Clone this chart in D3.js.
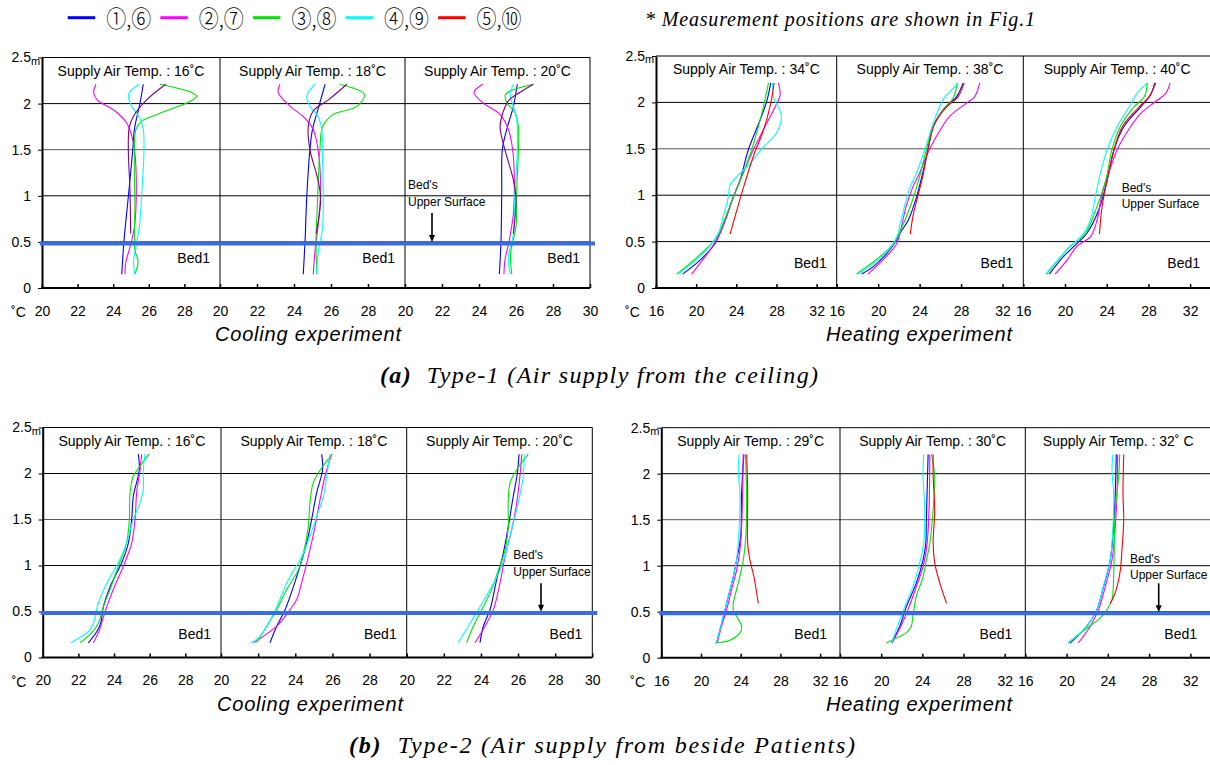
<!DOCTYPE html>
<html>
<head>
<meta charset="utf-8">
<script src="https://d3js.org/d3.v7.min.js"></script>
<style>
  body { margin: 0; background: #fff; }
  text { font-family: "Liberation Sans", Arial, sans-serif; }
  .serif { font-family: "Liberation Serif", "Times New Roman", serif; }
</style>
</head>
<body>
<div id="chart"></div>
<script>
// measurement points (legend) and colours
var seriesLabels = ["①,⑥", "②,⑦", "③,⑧", "④,⑨", "⑤,⑩"];
var seriesColors = ["#0000ff", "#ff00ff", "#00e600", "#00ffff", "#ff0000"];
var type1CoolFifth = "#800080";   // 5th curve of the type-1 cooling runs is drawn purple

var coolTemps1 = ["16˚C", "18˚C", "20˚C"];
var heatTemps1 = ["34˚C", "38˚C", "40˚C"];
var coolTemps2 = ["16˚C", "18˚C", "20˚C"];
var heatTemps2 = ["29˚C", "30˚C", "32˚ C"];

var coolTicks = [[20, 22, 24, 26, 28], [20, 22, 24, 26, 28], [20, 22, 24, 26, 28, 30]];
var heatTicks = [[16, 20, 24, 28, 32], [16, 20, 24, 28, 32], [16, 20, 24, 28, 32]];
var heightTicks = [0, 0.5, 1, 1.5, 2, 2.5];
var bedHeight = 0.483;

// each curve: [height (m), temperature (°C)]
// Type-1, cooling
var t1Cool16 = [
  [[2.21,25.69],[2.0,25.5],[1.72,25.19],[1.5,25.1],[0.99,24.85],[0.52,24.61],[0.15,24.48]],
  [[2.21,23.03],[2.12,22.9],[2.04,23.1],[1.92,24.1],[1.79,24.76],[1.65,25.04],[1.5,25.2],[1.07,25.3],[0.67,25.2],[0.45,24.95],[0.27,24.7],[0.15,24.66]],
  [[2.21,26.63],[2.12,28.4],[2.08,28.69],[2.03,28.4],[1.95,27.38],[1.88,26.44],[1.81,25.6],[1.72,25.28],[1.5,25.19],[0.88,25.22],[0.41,25.22],[0.29,25.4],[0.15,25.22]],
  [[2.21,25.47],[2.13,24.94],[2.08,24.85],[1.97,25.04],[1.84,25.5],[1.72,25.69],[1.5,25.73],[1.17,25.65],[0.67,25.47],[0.45,25.28],[0.3,25.15],[0.15,25.2]],
  [[2.21,26.95],[2.04,25.88],[1.86,25.13],[1.74,24.9],[1.5,24.85],[1.07,24.94],[0.59,24.98]]
];
var t1Cool18 = [
  [[2.21,25.68],[2.01,25.4],[1.72,25.0],[1.5,24.86],[0.99,24.69],[0.52,24.6],[0.15,24.5]],
  [[2.21,23.24],[2.12,23.15],[1.97,23.8],[1.84,24.6],[1.72,25.04],[1.5,25.3],[1.07,25.44],[0.67,25.3],[0.41,25.14],[0.15,25.04]],
  [[2.21,26.45],[2.1,27.8],[1.97,27.4],[1.88,26.1],[1.75,25.55],[1.5,25.4],[0.88,25.26],[0.52,25.19],[0.15,25.23]],
  [[2.21,25.14],[2.08,24.69],[1.97,24.86],[1.86,25.3],[1.72,25.5],[1.5,25.53],[0.67,25.55],[0.38,25.3],[0.15,25.23]],
  [[2.21,26.85],[2.04,25.86],[1.92,25.04],[1.75,24.77],[1.5,24.86],[1.17,25.3],[0.96,25.44],[0.59,25.2]]
];
var t1Cool20 = [
  [[2.21,26.07],[1.97,25.86],[1.72,25.5],[1.5,25.26],[1.07,25.23],[0.52,25.19],[0.15,25.1]],
  [[2.21,24.2],[2.12,23.73],[2.01,24.2],[1.88,25.14],[1.72,25.59],[1.5,25.82],[1.17,25.91],[0.81,25.86],[0.52,25.64],[0.3,25.4],[0.15,25.35]],
  [[2.21,26.94],[2.1,25.44],[2.01,25.5],[1.9,25.95],[1.75,26.13],[1.5,26.13],[1.07,26.04],[0.67,26.0],[0.38,25.71],[0.15,25.77]],
  [[2.21,25.86],[2.1,25.68],[1.97,25.86],[1.83,26.04],[1.5,26.07],[1.07,25.95],[0.59,25.86],[0.34,25.59],[0.15,25.68]],
  [[2.21,26.94],[2.12,26.2],[2.03,25.59],[1.86,25.23],[1.74,25.14],[1.5,25.4],[1.17,25.86],[0.96,26.0],[0.59,25.86]]
];

// Type-1, heating
var t1Heat34 = [
  [[2.21,27.43],[2.01,27.03],[1.81,26.37],[1.49,25.2],[1.16,24.37],[0.98,23.7],[0.73,22.88],[0.48,21.88],[0.3,20.39],[0.15,18.66]],
  [[2.21,28.19],[2.08,28.36],[1.95,27.86],[1.81,27.2],[1.49,25.7],[1.24,24.7],[0.98,23.7],[0.77,23.04],[0.59,22.38],[0.41,21.38],[0.15,19.55]],
  [[2.21,27.2],[2.03,26.86],[1.81,26.37],[1.49,25.53],[1.2,24.54],[0.98,23.71],[0.75,22.88],[0.55,22.05],[0.36,20.39],[0.15,18.06]],
  [[2.21,27.63],[2.06,27.7],[1.85,28.5],[1.67,28.0],[1.52,26.7],[1.34,25.37],[1.2,24.04],[1.11,23.38],[0.98,23.2],[0.77,22.7],[0.59,22.2],[0.41,21.05],[0.15,18.23]],
  [[2.21,27.76],[1.99,27.43],[1.7,26.7],[1.42,25.7],[1.02,24.54],[0.58,23.38]]
];
var t1Heat38 = [
  [[2.21,28.2],[2.06,27.55],[1.92,26.26],[1.74,25.3],[1.49,24.8],[1.24,24.3],[0.98,23.7],[0.73,22.9],[0.59,22.1],[0.52,21.79],[0.37,20.82],[0.23,19.53],[0.15,18.41]],
  [[2.21,29.8],[2.06,29.3],[1.99,28.5],[1.85,26.9],[1.63,25.6],[1.42,24.65],[1.24,24.0],[1.09,23.35],[0.88,22.7],[0.59,22.1],[0.48,21.8],[0.34,20.8],[0.15,19.0]],
  [[2.21,27.65],[2.04,27.2],[1.92,26.26],[1.74,25.3],[1.49,24.65],[1.2,24.0],[0.91,23.2],[0.63,22.2],[0.48,21.5],[0.34,20.2],[0.15,17.9]],
  [[2.21,27.7],[2.13,27.06],[2.03,26.26],[1.77,25.3],[1.49,24.5],[1.24,23.7],[1.06,23.0],[0.73,22.2],[0.55,21.79],[0.37,20.66],[0.15,18.08]],
  [[2.21,28.3],[2.06,27.7],[1.95,26.58],[1.77,25.45],[1.49,24.8],[1.2,24.3],[0.98,23.8],[0.77,23.35],[0.58,23.1]]
];
var t1Heat40 = [
  [[2.21,28.6],[2.08,28.2],[1.95,27.25],[1.74,25.65],[1.49,24.7],[1.16,24.04],[0.84,23.23],[0.59,22.1],[0.48,21.15],[0.34,19.86],[0.15,18.5]],
  [[2.21,30.08],[2.1,29.67],[2.01,28.7],[1.88,27.25],[1.74,26.3],[1.49,25.0],[1.24,24.2],[1.02,23.56],[0.73,23.07],[0.55,22.43],[0.45,21.15],[0.3,20.2],[0.15,19.05]],
  [[2.21,27.9],[2.06,27.6],[1.95,26.6],[1.74,25.3],[1.49,24.5],[1.16,23.9],[0.88,23.07],[0.59,21.95],[0.45,20.5],[0.15,18.25]],
  [[2.21,27.9],[2.1,26.93],[1.95,26.13],[1.74,25.0],[1.49,24.04],[1.24,23.4],[0.98,22.9],[0.73,22.43],[0.59,21.8],[0.41,20.18],[0.15,18.15]],
  [[2.21,28.7],[2.06,28.06],[1.95,27.1],[1.74,25.5],[1.49,24.7],[1.16,24.04],[0.88,23.56],[0.58,23.3]]
];

// Type-2, cooling (no 5th curve)
var t2Cool16 = [
  [[2.21,25.36],[2.04,25.42],[1.75,25.08],[1.5,24.99],[1.24,24.8],[1.03,24.43],[0.77,23.78],[0.55,23.4],[0.37,23.25],[0.28,23.03],[0.16,22.56]],
  [[2.21,25.55],[2.04,25.46],[1.79,25.27],[1.5,25.18],[1.24,24.99],[1.13,24.8],[0.99,24.52],[0.74,23.96],[0.55,23.59],[0.37,23.3],[0.27,23.12],[0.16,22.84]],
  [[2.21,25.96],[2.08,25.46],[1.97,25.08],[1.79,24.9],[1.5,24.86],[1.24,24.7],[0.99,24.24],[0.74,23.78],[0.55,23.4],[0.37,23.12],[0.27,22.75],[0.16,22.1]],
  [[2.21,25.74],[2.04,25.64],[1.82,25.64],[1.68,25.46],[1.5,25.08],[1.24,24.7],[1.03,24.24],[0.81,23.6],[0.59,23.12],[0.37,22.84],[0.28,22.56],[0.23,22.19],[0.16,21.57]]
];
var t2Cool18 = [
  [[2.21,25.42],[2.04,25.47],[1.79,25.15],[1.5,24.88],[1.24,24.61],[0.99,24.25],[0.77,23.9],[0.52,23.45],[0.34,23.0],[0.16,22.64]],
  [[2.21,25.96],[1.97,25.6],[1.71,25.33],[1.42,25.06],[1.17,24.79],[0.81,24.34],[0.63,24.08],[0.52,23.72],[0.34,23.0],[0.23,22.28],[0.16,21.74]],
  [[2.21,26.0],[2.06,25.42],[1.9,24.97],[1.68,24.79],[1.42,24.7],[1.13,24.43],[0.95,24.16],[0.74,23.54],[0.52,23.0],[0.34,22.46],[0.16,21.92]],
  [[2.21,25.87],[1.97,25.69],[1.75,25.51],[1.53,25.15],[1.32,24.79],[1.13,24.43],[1.03,24.16],[0.81,23.54],[0.55,23.0],[0.34,22.46],[0.21,22.0],[0.16,21.6]]
];
var t2Cool20 = [
  [[2.21,26.05],[2.0,25.96],[1.75,25.74],[1.42,25.47],[1.13,25.2],[0.85,24.85],[0.52,24.49],[0.34,24.13],[0.16,23.95]],
  [[2.21,26.2],[1.97,26.1],[1.68,25.93],[1.39,25.66],[1.1,25.3],[0.81,25.03],[0.52,24.67],[0.34,24.22],[0.16,23.68]],
  [[2.21,26.55],[2.04,25.93],[1.9,25.57],[1.68,25.47],[1.42,25.47],[1.17,25.3],[0.95,24.94],[0.7,24.49],[0.48,23.95],[0.34,23.59],[0.16,23.23]],
  [[2.21,26.32],[1.97,26.28],[1.68,26.01],[1.46,25.74],[1.17,25.39],[0.95,25.03],[0.74,24.49],[0.52,23.86],[0.37,23.41],[0.16,22.78]]
];

// Type-2, heating
var t2Heat29 = [
  [[2.21,24.32],[1.79,24.09],[1.32,24.0],[1.06,23.58],[0.88,23.25],[0.59,22.58],[0.37,22.07],[0.16,21.57]],
  [[2.21,24.25],[1.79,24.19],[1.42,24.09],[1.17,23.92],[0.95,23.58],[0.74,23.08],[0.52,22.58],[0.34,22.07],[0.16,21.64]],
  [[2.21,24.49],[1.68,24.59],[1.32,24.52],[1.06,24.26],[0.81,23.75],[0.59,23.25],[0.52,23.25],[0.45,23.58],[0.34,24.09],[0.27,23.92],[0.19,22.91],[0.16,21.4]],
  [[2.21,23.85],[2.04,23.75],[1.79,23.92],[1.42,23.85],[1.06,23.58],[0.88,23.25],[0.66,22.74],[0.45,22.24],[0.23,21.74],[0.16,21.5]],
  [[2.21,24.6],[1.79,24.7],[1.24,24.7],[1.06,24.93],[0.88,25.33],[0.59,25.77]]
];
var t2Heat30 = [
  [[2.21,24.56],[1.79,24.46],[1.5,24.39],[1.24,24.33],[1.06,24.07],[0.81,23.41],[0.55,22.43],[0.34,21.8],[0.16,21.0]],
  [[2.21,24.72],[1.61,24.65],[1.24,24.46],[0.99,24.07],[0.77,23.41],[0.52,22.6],[0.34,21.9],[0.16,21.05]],
  [[2.21,24.88],[1.97,25.2],[1.61,25.05],[1.24,24.72],[1.06,24.39],[0.88,24.07],[0.66,23.4],[0.45,23.08],[0.34,22.92],[0.27,22.43],[0.23,21.8],[0.16,20.5]],
  [[2.21,24.13],[1.97,24.07],[1.61,24.23],[1.24,24.13],[1.03,23.74],[0.77,23.08],[0.55,22.27],[0.41,21.8],[0.16,21.0]],
  [[2.21,25.05],[1.97,25.05],[1.61,25.2],[1.24,25.05],[1.03,25.2],[0.81,25.7],[0.59,26.35]]
];
var t2Heat32 = [
  [[2.21,24.82],[1.79,24.72],[1.42,24.56],[1.06,24.23],[0.77,23.58],[0.52,22.93],[0.34,21.95],[0.16,20.33]],
  [[2.21,24.95],[1.79,24.89],[1.42,24.72],[1.06,24.4],[0.77,23.75],[0.52,23.09],[0.34,22.28],[0.16,21.14]],
  [[2.21,25.15],[1.97,25.05],[1.61,24.72],[1.24,24.63],[0.88,24.56],[0.63,24.4],[0.52,23.9],[0.43,23.26],[0.32,21.95],[0.16,20.16]],
  [[2.21,24.5],[2.04,24.4],[1.79,24.56],[1.42,24.5],[1.06,24.23],[0.81,23.65],[0.52,22.93],[0.34,21.95],[0.16,20.16]],
  [[2.21,25.54],[1.79,25.47],[1.5,25.54],[1.17,25.37],[0.95,25.21],[0.77,24.89],[0.66,24.56],[0.59,24.23]]
];

var width = 1210, height = 765;
var svg = d3.select("#chart").append("svg")
  .attr("width", width)
  .attr("height", height);

// layout of the four panel groups
var groups = [
  { data: [t1Cool16, t1Cool18, t1Cool20], temps: coolTemps1, ticks: coolTicks, domain: [20, 30],
    xs: [42, 220, 405, 590], top: 57.5, bot: 288, fifth: type1CoolFifth, bedLine: true,
    bed1: [-10, -25], note: { dx: 3, dy: [-99, -82.3], arrow: [27, -75, -46] }, exp: "Cooling experiment", expX: 308 },
  { data: [t1Heat34, t1Heat38, t1Heat40], temps: heatTemps1, ticks: heatTicks, domain: [16, 34],
    xs: [656, 836.7, 1023.3, 1211], top: 56, bot: 288, fifth: null, bedLine: false,
    bed1: [-10, -20], note: { dx: 98.4, dy: [-95.7, -79.7], arrow: null }, exp: "Heating experiment", expX: 919 },
  { data: [t2Cool16, t2Cool18, t2Cool20], temps: coolTemps2, ticks: coolTicks, domain: [20, 30],
    xs: [42.7, 221, 406.7, 592.3], top: 427.5, bot: 657.5, fifth: null, bedLine: true,
    bed1: [-10, -19], note: { dx: 106.6, dy: [-98.5, -81.8], arrow: [134.3, -74.2, -45.8] }, exp: "Cooling experiment", expX: 310 },
  { data: [t2Heat29, t2Heat30, t2Heat32], temps: heatTemps2, ticks: heatTicks, domain: [16, 34],
    xs: [661.3, 840, 1025.3, 1211], top: 427.7, bot: 657.7, fifth: null, bedLine: true,
    bed1: [-13, -19], note: { dx: 104.7, dy: [-94.4, -78.7], arrow: [133.4, -74.4, -45.4] }, exp: "Heating experiment", expX: 919 }
];

groups.forEach(drawGroup);

function drawGroup(L) {
  var g = svg.append("g");
  var left = L.xs[0], right = L.xs[3];
  var y = d3.scaleLinear().domain([0, 2.5]).range([L.bot, L.top]);

  // horizontal grid + top border
  g.selectAll(".grid")
    .data([0.5, 1, 1.5, 2, 2.5])
    .enter().append("line")
    .attr("x1", left).attr("x2", right)
    .attr("y1", function (d) { return y(d); })
    .attr("y2", function (d) { return y(d); })
    .attr("stroke", function (d) { return d === 1.5 ? "#555" : "#000"; })
    .attr("stroke-width", 1);

  for (var i = 0; i < 3; i++) {
    var x = d3.scaleLinear().domain(L.domain).range([L.xs[i], L.xs[i + 1]]);
    var x0 = L.xs[i], x1 = L.xs[i + 1];

    // panel divider / right border
    g.append("line")
      .attr("x1", x1).attr("x2", x1)
      .attr("y1", L.top).attr("y2", L.bot)
      .attr("stroke", "#000").attr("stroke-width", 1);

    // x axis of this panel
    var axG = g.append("g")
      .attr("transform", "translate(0," + L.bot + ")")
      .call(d3.axisBottom(x)
        .tickValues(L.ticks[i])
        .tickSize(-4)
        .tickPadding(18)
        .tickFormat(d3.format("d")));
    axG.select(".domain").remove();
    axG.attr("font-size", 14).attr("font-family", "Liberation Sans, Arial, sans-serif");
    axG.selectAll("line").attr("stroke-width", 1.5);

    // panel title
    g.append("text")
      .attr("x", (x0 + x1) / 2)
      .attr("y", L.top + 18)
      .attr("text-anchor", "middle")
      .attr("font-size", 14)
      .text("Supply Air Temp. : " + L.temps[i]);

    // temperature profiles
    var line = d3.line()
      .x(function (d) { return x(d[1]); })
      .y(function (d) { return y(d[0]); })
      .curve(d3.curveCatmullRom.alpha(0.5));

    g.selectAll(".curve" + i)
      .data(L.data[i])
      .enter().append("path")
      .attr("d", line)
      .attr("fill", "none")
      .attr("stroke-width", 1.1)
      .attr("stroke", function (d, k) {
        if (k === 4 && L.fifth) return L.fifth;
        return seriesColors[k];
      });

    // Bed1 label
    g.append("text")
      .attr("x", Math.min(x1, width) + L.bed1[0])
      .attr("y", L.bot + L.bed1[1])
      .attr("text-anchor", "end")
      .attr("font-size", 14)
      .text("Bed1");
  }

  // left axis
  var yAxG = g.append("g")
    .attr("transform", "translate(" + left + ",0)")
    .call(d3.axisLeft(y)
      .tickValues(heightTicks)
      .tickSize(4)
      .tickSizeOuter(0)
      .tickPadding(7)
      .tickFormat(d3.format("")));
  yAxG.attr("font-size", 14).attr("font-family", "Liberation Sans, Arial, sans-serif");
  yAxG.select(".domain").attr("stroke-width", 2);

  g.append("text")
    .attr("x", left - 11)
    .attr("y", y(2.5) + 7)
    .attr("font-size", 11)
    .text("m");

  // bottom axis line
  g.append("line")
    .attr("x1", left - 1).attr("x2", right)
    .attr("y1", L.bot).attr("y2", L.bot)
    .attr("stroke", "#000").attr("stroke-width", 2);

  // unit label
  g.append("text")
    .attr("x", left - 31)
    .attr("y", L.bot + 29)
    .attr("font-size", 14)
    .text("˚C");

  // bed surface line
  if (L.bedLine) {
    g.append("line")
      .attr("x1", left - 2).attr("x2", right + 5)
      .attr("y1", y(bedHeight)).attr("y2", y(bedHeight))
      .attr("stroke", "#3a6be6").attr("stroke-width", 4);
  }

  // Bed's upper surface note
  var nx = L.xs[2] + L.note.dx;
  g.append("text").attr("x", nx).attr("y", L.bot + L.note.dy[0])
    .attr("font-size", 12).text("Bed's");
  g.append("text").attr("x", nx).attr("y", L.bot + L.note.dy[1])
    .attr("font-size", 12).text("Upper Surface");
  if (L.note.arrow) {
    var axp = L.xs[2] + L.note.arrow[0];
    var ya = L.bot + L.note.arrow[1], yb = L.bot + L.note.arrow[2];
    g.append("line")
      .attr("x1", axp).attr("x2", axp)
      .attr("y1", ya).attr("y2", yb - 5)
      .attr("stroke", "#000").attr("stroke-width", 1.6);
    g.append("path")
      .attr("d", "M" + (axp - 3) + "," + (yb - 7) + "L" + (axp + 3) + "," + (yb - 7) + "L" + axp + "," + yb + "Z")
      .attr("fill", "#000");
  }

  // experiment label
  g.append("text")
    .attr("x", L.expX)
    .attr("y", L.bot + 53)
    .attr("text-anchor", "middle")
    .attr("font-size", 20)
    .attr("font-style", "italic")
    .attr("textLength", 186)
    .attr("lengthAdjust", "spacing")
    .text(L.exp);
}

// legend
var legend = svg.append("g");
seriesLabels.forEach(function (lab, i) {
  var lx = 67.7 + i * 92.6;
  legend.append("line")
    .attr("x1", lx).attr("x2", lx + 27.5)
    .attr("y1", 17.7).attr("y2", 17.7)
    .attr("stroke", seriesColors[i]).attr("stroke-width", 3);
  legend.append("text")
    .attr("x", lx + 38.5)
    .attr("y", 27)
    .attr("font-size", 23)
    .attr("textLength", 45)
    .attr("lengthAdjust", "spacingAndGlyphs")
    .style("font-family", "'Noto Sans CJK JP', 'DejaVu Sans', serif")
    .style("font-weight", 300)
    .text(lab);
});

svg.append("text")
  .attr("class", "serif")
  .attr("x", 645).attr("y", 25.5)
  .attr("font-size", 20)
  .attr("font-style", "italic")
  .attr("textLength", 390)
  .attr("lengthAdjust", "spacing")
  .text("* Measurement positions are shown in Fig.1");

// captions
function caption(x, y, len, tag, rest) {
  var t = svg.append("text")
    .attr("class", "serif")
    .attr("x", x).attr("y", y)
    .attr("font-size", 24)
    .attr("font-style", "italic")
    .attr("textLength", len)
    .attr("lengthAdjust", "spacing");
  t.append("tspan").attr("font-weight", "bold").text(tag);
  t.append("tspan").text("\u00a0\u00a0" + rest);
}
caption(380, 383.3, 438, "(a)", "Type-1 (Air supply from the ceiling)");
caption(349, 753, 506, "(b)", "Type-2 (Air supply from beside Patients)");
</script>
</body>
</html>
